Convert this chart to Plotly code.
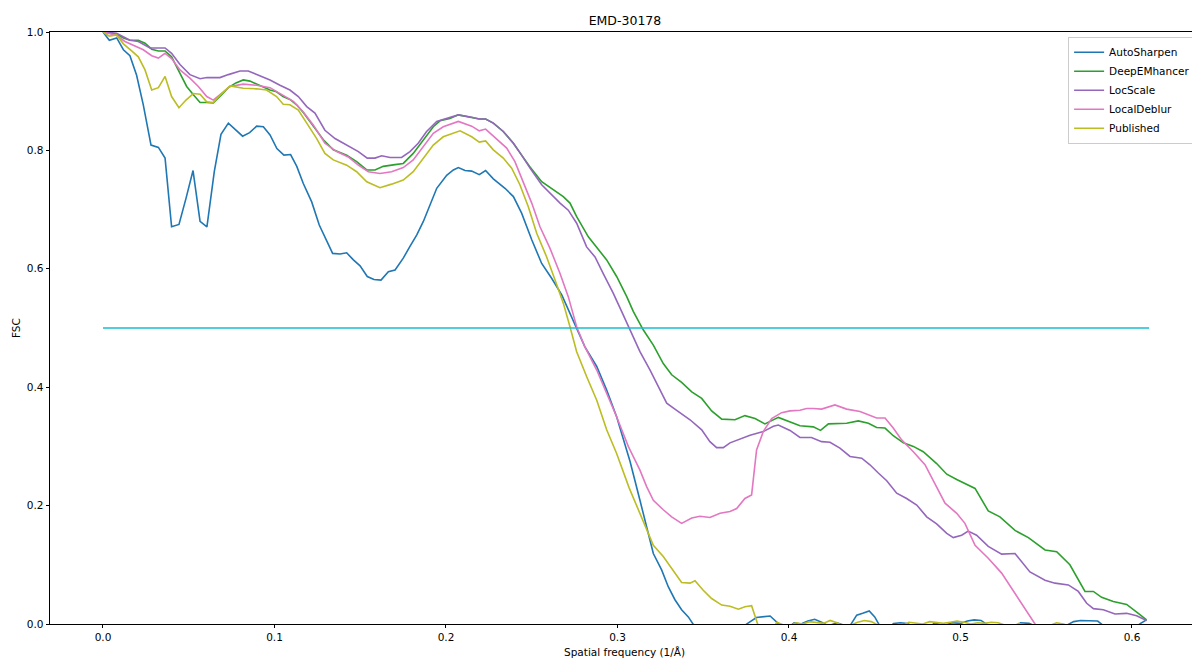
import plotly.graph_objects as go

# ---------------- data ----------------
auto_x = [0, 0.0037, 0.008, 0.0119, 0.0157, 0.0196, 0.0235, 0.028, 0.0323, 0.0362, 0.040, 0.0443, 0.0484,
          0.0525, 0.0566, 0.0606, 0.0649, 0.0688, 0.0731, 0.0772, 0.0814, 0.0855, 0.0896, 0.0935, 0.0974,
          0.1014, 0.1055, 0.1094, 0.113, 0.1168, 0.1217, 0.1261, 0.1304, 0.1339, 0.1382, 0.1421, 0.146,
          0.1499, 0.1541, 0.158, 0.1621, 0.1664, 0.1703, 0.1751, 0.179, 0.1829, 0.1868, 0.1897, 0.1946,
          0.2004, 0.2043, 0.2072, 0.2111, 0.215, 0.2194, 0.2231, 0.2276, 0.2344, 0.2393, 0.2441, 0.25,
          0.2558, 0.2616, 0.2675, 0.2723, 0.2762, 0.281, 0.2879, 0.2937, 0.2995, 0.3035, 0.3073, 0.3131,
          0.317, 0.3209, 0.3258, 0.3296, 0.3335, 0.3374, 0.3413, 0.3452, 0.35, 0.36, 0.37, 0.3753, 0.381,
          0.385, 0.389, 0.3948, 0.40, 0.403, 0.407, 0.411, 0.415, 0.419, 0.423, 0.428, 0.432, 0.4356,
          0.4395, 0.443, 0.4468, 0.450, 0.4527, 0.457, 0.461, 0.465, 0.469, 0.473, 0.48, 0.485, 0.49,
          0.495, 0.50, 0.504, 0.508, 0.512, 0.516, 0.53, 0.535, 0.54, 0.545, 0.56, 0.566, 0.57, 0.575,
          0.58, 0.583, 0.59, 0.60, 0.605, 0.6085]
auto_y = [1.0, 0.986, 0.990, 0.970, 0.960, 0.927, 0.877, 0.809, 0.805, 0.787, 0.671, 0.675, 0.719,
          0.766, 0.680, 0.671, 0.764, 0.827, 0.846, 0.835, 0.824, 0.830, 0.841, 0.840, 0.826,
          0.803, 0.792, 0.793, 0.773, 0.744, 0.713, 0.674, 0.646, 0.626, 0.625, 0.627, 0.615,
          0.605, 0.587, 0.582, 0.581, 0.595, 0.598, 0.618, 0.638, 0.657, 0.680, 0.702, 0.736,
          0.758, 0.767, 0.771, 0.766, 0.765, 0.759, 0.766, 0.752, 0.736, 0.722, 0.694, 0.649,
          0.609, 0.584, 0.556, 0.525, 0.502, 0.468, 0.435, 0.395, 0.350, 0.310, 0.275, 0.209,
          0.164, 0.119, 0.091, 0.063, 0.041, 0.024, 0.012, -0.005, -0.02, -0.03, -0.015, 0.0, 0.011,
          0.012, 0.0135, -0.002, -0.005, 0.002, 0.0, 0.005, 0.008, 0.003, -0.003, 0.002, -0.002, -0.003,
          0.015, 0.018, 0.022, 0.012, -0.002, -0.01, 0.001, 0.002, 0.001, -0.005, -0.01, 0.002, -0.003,
          0.002, 0.001, 0.005, 0.007, 0.006, -0.002, -0.01, 0.002, 0.001, -0.005, -0.005, 0.004, 0.006, 0.005,
          0.005, -0.002, -0.01, -0.01, 0.001, 0.007]

deep_x = [0, 0.008, 0.0119, 0.0157, 0.0206, 0.0245, 0.0284, 0.0323, 0.0362, 0.040, 0.0449, 0.0488,
          0.0527, 0.0566, 0.0606, 0.0643, 0.0692, 0.0731, 0.0775, 0.0818, 0.0857, 0.0896, 0.0935,
          0.0974, 0.1012, 0.105, 0.109, 0.1129, 0.1168, 0.1207, 0.1246, 0.1285, 0.1343, 0.1382,
          0.1421, 0.1479, 0.1538, 0.1586, 0.1634, 0.1703, 0.1751, 0.1809, 0.1868, 0.1926, 0.1965,
          0.2023, 0.2072, 0.215, 0.2194, 0.2231, 0.2276, 0.2334, 0.2393, 0.2441, 0.249, 0.2558,
          0.2626, 0.2684, 0.2723, 0.2762, 0.283, 0.2879, 0.2937, 0.2995, 0.3054, 0.3092, 0.315,
          0.3209, 0.3267, 0.3316, 0.3374, 0.3433, 0.3491, 0.3549, 0.3608, 0.3685, 0.3743, 0.3802,
          0.386, 0.3938, 0.4006, 0.4064, 0.4142, 0.4184, 0.423, 0.4336, 0.4404, 0.4463, 0.4511,
          0.456, 0.4608, 0.4667, 0.4725, 0.4783, 0.4861, 0.492, 0.4978, 0.5055, 0.5085, 0.5162,
          0.523, 0.5318, 0.5396, 0.5493, 0.5561, 0.5638, 0.5726, 0.5775, 0.5823, 0.5891, 0.5969,
          0.6037, 0.6085]
deep_y = [1.0, 0.996, 0.990, 0.986, 0.986, 0.981, 0.971, 0.968, 0.968, 0.958, 0.930, 0.908,
          0.894, 0.881, 0.881, 0.880, 0.894, 0.906, 0.914, 0.919, 0.917, 0.912, 0.906,
          0.902, 0.899, 0.891, 0.886, 0.877, 0.864, 0.849, 0.835, 0.818, 0.801, 0.797,
          0.792, 0.781, 0.767, 0.767, 0.773, 0.776, 0.778, 0.795, 0.818, 0.840, 0.850,
          0.854, 0.860, 0.856, 0.853, 0.853, 0.846, 0.832, 0.812, 0.792, 0.772, 0.747,
          0.733, 0.722, 0.711, 0.688, 0.654, 0.637, 0.615, 0.587, 0.553, 0.528, 0.497,
          0.471, 0.440, 0.421, 0.408, 0.392, 0.381, 0.360, 0.346, 0.345, 0.352, 0.347,
          0.338, 0.349, 0.342, 0.335, 0.333, 0.327, 0.338, 0.339, 0.343, 0.339, 0.332,
          0.331, 0.318, 0.306, 0.300, 0.291, 0.271, 0.253, 0.244, 0.233, 0.229, 0.191,
          0.181, 0.158, 0.146, 0.125, 0.122, 0.100, 0.055, 0.055, 0.045, 0.038, 0.033,
          0.018, 0.007]

loc_x = [0, 0.008, 0.0157, 0.0206, 0.0274, 0.0362, 0.040, 0.0449, 0.0507, 0.0566, 0.0606, 0.0682,
         0.0731, 0.0799, 0.0847, 0.0896, 0.0954, 0.0974, 0.1032, 0.109, 0.1139, 0.1188, 0.1236,
         0.1294, 0.1353, 0.1421, 0.1489, 0.1541, 0.1586, 0.1625, 0.1674, 0.1741, 0.179, 0.1838,
         0.1887, 0.1946, 0.2023, 0.2072, 0.215, 0.2194, 0.2231, 0.2276, 0.2334, 0.2393, 0.2441,
         0.249, 0.2558, 0.2616, 0.2665, 0.2713, 0.2762, 0.282, 0.2869, 0.2917, 0.2975, 0.3024,
         0.3073, 0.3131, 0.319, 0.3238, 0.3287, 0.3345, 0.3423, 0.3491, 0.3539, 0.3578, 0.3617,
         0.3656, 0.3714, 0.3773, 0.385, 0.3909, 0.3938, 0.4006, 0.4064, 0.4131, 0.419, 0.4239,
         0.4297, 0.4356, 0.4424, 0.4472, 0.4521, 0.457, 0.4628, 0.4686, 0.4745, 0.4803, 0.4861,
         0.492, 0.4958, 0.5007, 0.5045, 0.5094, 0.5162, 0.524, 0.5318, 0.5405, 0.5493, 0.5551,
         0.5629, 0.5687, 0.5736, 0.5775, 0.5833, 0.5901, 0.5969, 0.6027, 0.6085]
loc_y = [1.0, 0.998, 0.986, 0.984, 0.973, 0.973, 0.964, 0.945, 0.928, 0.921, 0.923, 0.923,
         0.928, 0.934, 0.934, 0.928, 0.921, 0.919, 0.910, 0.902, 0.891, 0.874, 0.863,
         0.834, 0.820, 0.809, 0.798, 0.787, 0.787, 0.791, 0.788, 0.788, 0.798, 0.812,
         0.832, 0.849, 0.855, 0.860, 0.856, 0.853, 0.853, 0.846, 0.832, 0.812, 0.792,
         0.770, 0.742, 0.725, 0.711, 0.699, 0.677, 0.637, 0.620, 0.592, 0.559, 0.528,
         0.497, 0.460, 0.429, 0.401, 0.373, 0.361, 0.345, 0.328, 0.308, 0.298, 0.298,
         0.306, 0.312, 0.319, 0.325, 0.334, 0.336, 0.327, 0.315, 0.315, 0.308, 0.307,
         0.297, 0.283, 0.280, 0.269, 0.255, 0.242, 0.221, 0.212, 0.201, 0.181, 0.169,
         0.153, 0.146, 0.150, 0.157, 0.150, 0.131, 0.118, 0.119, 0.088, 0.074, 0.069,
         0.066, 0.055, 0.035, 0.026, 0.024, 0.017, 0.018, 0.014, 0.006]

deblur_x = [0, 0.008, 0.0128, 0.0177, 0.0235, 0.0284, 0.0323, 0.0362, 0.040, 0.0449, 0.0507, 0.0556,
            0.0605, 0.0643, 0.0692, 0.0741, 0.0818, 0.0896, 0.0974, 0.1051, 0.111, 0.1168, 0.1226,
            0.1294, 0.1363, 0.143, 0.1489, 0.1547, 0.1615, 0.1683, 0.1751, 0.1809, 0.1868, 0.1926,
            0.1984, 0.2043, 0.2072, 0.215, 0.2194, 0.2231, 0.2276, 0.2354, 0.2402, 0.2451, 0.25,
            0.2548, 0.2606, 0.2665, 0.2713, 0.2762, 0.281, 0.2879, 0.2937, 0.2995, 0.3063, 0.3131,
            0.317, 0.3209, 0.3267, 0.3316, 0.3374, 0.3433, 0.3481, 0.3539, 0.3598, 0.3656, 0.3695,
            0.3743, 0.3782, 0.3811, 0.385, 0.3899, 0.3957, 0.4006, 0.4064, 0.4103, 0.4142, 0.419,
            0.4268, 0.4336, 0.4414, 0.4463, 0.4511, 0.456, 0.4608, 0.4657, 0.4725, 0.4793, 0.4851,
            0.491, 0.4978, 0.5026, 0.5085, 0.5162, 0.524, 0.5318, 0.5386, 0.5434, 0.548, 0.56,
            0.58, 0.60, 0.61]
deblur_y = [1.0, 0.994, 0.984, 0.978, 0.970, 0.960, 0.956, 0.964, 0.955, 0.936, 0.922, 0.908,
            0.891, 0.885, 0.896, 0.908, 0.912, 0.910, 0.906, 0.893, 0.883, 0.865, 0.843,
            0.812, 0.798, 0.789, 0.775, 0.764, 0.761, 0.764, 0.771, 0.784, 0.806, 0.829,
            0.840, 0.846, 0.849, 0.841, 0.833, 0.836, 0.824, 0.804, 0.781, 0.747, 0.711,
            0.671, 0.635, 0.592, 0.553, 0.502, 0.468, 0.429, 0.390, 0.350, 0.300, 0.260,
            0.232, 0.209, 0.193, 0.181, 0.170, 0.179, 0.182, 0.180, 0.187, 0.190, 0.195,
            0.212, 0.218, 0.294, 0.325, 0.347, 0.357, 0.360, 0.361, 0.364, 0.364, 0.363,
            0.370, 0.363, 0.359, 0.354, 0.348, 0.348, 0.331, 0.311, 0.291, 0.269, 0.238,
            0.204, 0.187, 0.170, 0.133, 0.111, 0.086, 0.052, 0.021, 0.0, -0.02, -0.05,
            -0.08, -0.10, -0.11]

pub_x = [0, 0.0037, 0.008, 0.0119, 0.0167, 0.0206, 0.0245, 0.0284, 0.0323, 0.0362, 0.040, 0.0443,
         0.0484, 0.0527, 0.0566, 0.0605, 0.0643, 0.0692, 0.0741, 0.0818, 0.0896, 0.0954, 0.1012,
         0.1051, 0.109, 0.1139, 0.1188, 0.1246, 0.1294, 0.1343, 0.1421, 0.1479, 0.1538, 0.1615,
         0.1683, 0.1751, 0.1809, 0.1868, 0.1926, 0.1984, 0.2043, 0.2082, 0.215, 0.2194, 0.2231,
         0.2276, 0.2334, 0.2383, 0.2431, 0.248, 0.2529, 0.2587, 0.2636, 0.2684, 0.2723, 0.2762,
         0.282, 0.2879, 0.2937, 0.2995, 0.3068, 0.3131, 0.317, 0.3209, 0.3267, 0.3325, 0.3374,
         0.3423, 0.3452, 0.35, 0.3549, 0.3608, 0.3656, 0.3705, 0.3743, 0.3782, 0.3815, 0.384,
         0.39, 0.393, 0.397, 0.40, 0.404, 0.408, 0.412, 0.416, 0.42, 0.424, 0.428, 0.432, 0.436,
         0.44, 0.444, 0.448, 0.452, 0.46, 0.466, 0.47, 0.474, 0.478, 0.482, 0.486, 0.49, 0.494,
         0.498, 0.502, 0.506, 0.51, 0.514, 0.518, 0.522, 0.526, 0.53, 0.534, 0.538, 0.55, 0.556,
         0.56, 0.565, 0.58, 0.60, 0.61]
pub_y = [1.0, 0.993, 0.995, 0.980, 0.968, 0.958, 0.936, 0.902, 0.906, 0.925, 0.891, 0.872,
         0.885, 0.896, 0.895, 0.882, 0.881, 0.896, 0.909, 0.905, 0.904, 0.902, 0.891,
         0.878, 0.877, 0.868, 0.846, 0.820, 0.795, 0.784, 0.775, 0.764, 0.747, 0.737,
         0.743, 0.750, 0.764, 0.787, 0.809, 0.823, 0.829, 0.833, 0.823, 0.814, 0.816,
         0.801, 0.787, 0.770, 0.742, 0.705, 0.660, 0.620, 0.581, 0.542, 0.502, 0.460,
         0.418, 0.378, 0.328, 0.288, 0.230, 0.187, 0.159, 0.133, 0.114, 0.091, 0.070,
         0.069, 0.073, 0.057, 0.043, 0.032, 0.030, 0.025, 0.029, 0.031, 0.0, -0.02,
         -0.01, 0.003, -0.002, -0.004, 0.002, 0.0, 0.004, 0.003, 0.001, 0.006, 0.002, -0.004, -0.002,
         0.003, 0.006, 0.004, -0.002, -0.005, -0.003, 0.003, 0.002, 0.0, 0.004, 0.002, 0.001, 0.003,
         0.005, 0.003, 0.0, 0.002, 0.001, 0.003, 0.002, -0.002, -0.005, 0.001, -0.003, -0.005, 0.002,
         0.0, -0.005, -0.01, -0.01, -0.005]

threshold_x = [0.0, 0.61]
threshold_y = [0.5, 0.5]

series = [
    ("AutoSharpen", auto_x, auto_y, "#1f77b4"),
    ("DeepEMhancer", deep_x, deep_y, "#2ca02c"),
    ("LocScale", loc_x, loc_y, "#9467bd"),
    ("LocalDeblur", deblur_x, deblur_y, "#e377c2"),
    ("Published", pub_x, pub_y, "#bcbd22"),
]

FONT = "DejaVu Sans"

fig = go.Figure()
for name, xs, ys, col in series:
    fig.add_trace(go.Scatter(x=xs, y=ys, mode="lines", name=name,
                             line=dict(color=col, width=1.6)))
fig.add_trace(go.Scatter(x=threshold_x, y=threshold_y, mode="lines", showlegend=False,
                         line=dict(color="#17becf", width=1.6)))

W, H = 1192, 660
L, T, B, R = 50, 32, 36, 0

fig.update_layout(
    width=W, height=H,
    margin=dict(l=L, r=R, t=T, b=B, autoexpand=False),
    plot_bgcolor="white", paper_bgcolor="white",
    font=dict(family=FONT, size=10.5, color="black"),
    showlegend=True,
    legend=dict(x=0.8915, y=0.992, xanchor="left", yanchor="top",
                bgcolor="rgba(255,255,255,0.8)", bordercolor="#cccccc", borderwidth=1,
                font=dict(family=FONT, size=10.5, color="black"),
                itemwidth=30, tracegroupgap=0),
    title=dict(text="EMD-30178", x=0.5035, xref="paper", xanchor="center",
               y=1 - 21 / H, yref="container", yanchor="middle",
               font=dict(family=FONT, size=12.5, color="black")),
    xaxis=dict(range=[-0.0309, 0.635], showgrid=False, zeroline=False,
               showline=True, linecolor="black", linewidth=0.8, mirror=True,
               ticks="outside", ticklen=3.5, tickwidth=0.8, tickcolor="black",
               tickvals=[0, 0.1, 0.2, 0.3, 0.4, 0.5, 0.6], tickformat=".1f",
               tickfont=dict(family=FONT, size=10.5, color="black")),
    yaxis=dict(range=[0, 1], showgrid=False, zeroline=False,
               showline=True, linecolor="black", linewidth=0.8, mirror=False,
               ticks="outside", ticklen=3.5, tickwidth=0.8, tickcolor="black",
               tickvals=[0, 0.2, 0.4, 0.6, 0.8, 1.0], tickformat=".1f",
               tickfont=dict(family=FONT, size=10.5, color="black")),
    annotations=[
        dict(text="Spatial frequency (1/Å)", xref="paper", yref="paper",
             x=0.5035, y=-(652 - 624) / 592, xanchor="center", yanchor="middle",
             showarrow=False, font=dict(family=FONT, size=10.5, color="black")),
        dict(text="FSC", xref="paper", yref="paper", x=(16 - 50) / 1142, y=0.5,
             xanchor="center", yanchor="middle", textangle=-90,
             showarrow=False, font=dict(family=FONT, size=10.5, color="black")),
    ],
)

fig.write_html("out.html")
